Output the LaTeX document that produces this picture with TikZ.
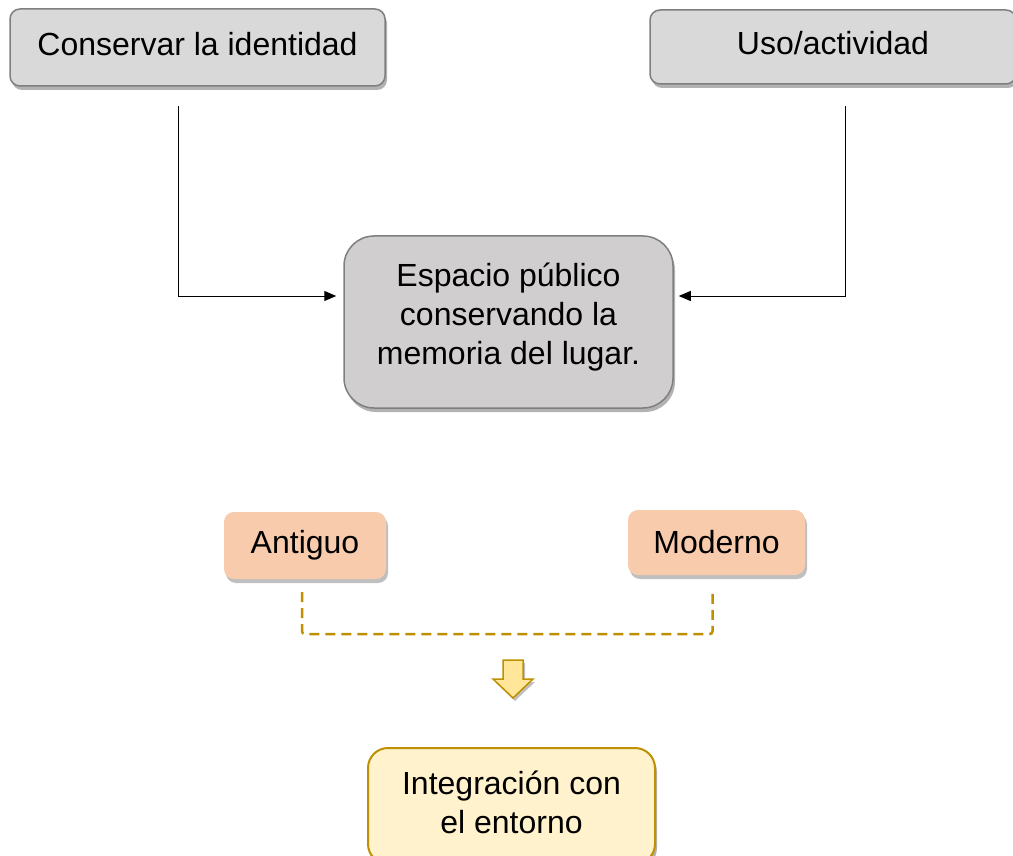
\documentclass[tikz,border=0pt]{standalone}
\usepackage{fontspec}
\setmainfont{Liberation Sans}
\usetikzlibrary{calc,arrows.meta,shadows}
\definecolor{boxgray}{HTML}{D9D9D9}
\definecolor{midgray}{HTML}{D0CECE}
\definecolor{edgegray}{HTML}{7F7F7F}
\definecolor{peach}{HTML}{F8CBAD}
\definecolor{paleyellow}{HTML}{FFF2CC}
\definecolor{arrowyellow}{HTML}{FFE699}
\definecolor{gold}{HTML}{BF9000}

\begin{document}
\begin{tikzpicture}[x=1pt,y=-1pt,
  box/.style={draw=edgegray,line width=1.5pt,fill=boxgray,rounded corners=10pt,inner sep=0pt,align=center,
    drop shadow={shadow xshift=2pt,shadow yshift=-4pt,opacity=0.3,fill=black}},
  tag/.style={fill=peach,rounded corners=10pt,inner sep=0pt,
    drop shadow={shadow xshift=2pt,shadow yshift=-4pt,opacity=0.25,fill=black}},
  conn/.style={line width=1pt,-{Triangle[length=12pt,width=10pt]}},
  link/.style={gold,line width=2.5pt,dash pattern=on 10pt off 6pt,rounded corners=3pt}]
  \useasboundingbox (0,0) rectangle (1013,856);
  \fontsize{32}{39}\selectfont
  % top row
  \node[box,text depth=8pt,minimum width=375,minimum height=77] (cons) at (197.5,47.5) {Conservar la identidad};
  \node[box,text depth=8pt,minimum width=366,minimum height=74] (uso) at (833,47) {Uso/actividad};
  \node[box,fill=midgray,rounded corners=30pt,text depth=17pt,minimum width=329,minimum height=172] (esp) at (508.5,322)
    {Espacio público\\conservando la\\memoria del lugar.};
  \coordinate (c1) at (178,106);
  \coordinate (c2) at (845,106);
  \draw[conn,shorten >=7pt] (c1) |- ($(esp.west)+(0,-26)$);
  \draw[conn,shorten >=5pt] (c2) |- ($(esp.east)+(0,-26)$);
  % lower part
  \node[tag,minimum width=162,minimum height=67] (ant) at (305,545.5) {Antiguo};
  \node[tag,minimum width=177,minimum height=65] (mod) at (716.5,542.5) {Moderno};
  \draw[link] ($(ant.south)+(-3,13)$) -- ++(0,42) -| ($(mod.south)+(-4,15)$);
  \draw[gold,line width=1.5pt,fill=arrowyellow,
    drop shadow={shadow xshift=2pt,shadow yshift=-3pt,opacity=0.25,fill=black}]
    (503,660) -- (523,660) -- (523,679) -- (533,679) -- (513,698) -- (493,679) -- (503,679) -- cycle;
  \node[box,draw=gold,line width=2pt,fill=paleyellow,rounded corners=20pt,text depth=8pt,minimum width=287,minimum height=116] (integ) at (511.5,806)
    {Integración con\\el entorno};
\end{tikzpicture}
\end{document}
